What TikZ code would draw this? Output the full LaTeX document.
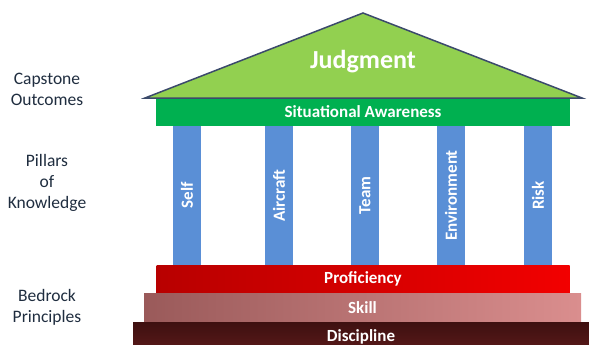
\documentclass[tikz,border=0pt]{standalone}
\usepackage{fontspec}
\setmainfont{Carlito}
\definecolor{roofgreen}{HTML}{92D050}
\definecolor{roofline}{HTML}{3B4A6B}
\definecolor{barsgreen}{HTML}{00B050}
\definecolor{pillarblue}{HTML}{5A8FD6}
\definecolor{profdark}{HTML}{B80000}
\definecolor{profred}{HTML}{F20000}
\definecolor{skilldark}{HTML}{9A5A5A}
\definecolor{skilllight}{HTML}{DA8E8E}
\definecolor{disctop}{HTML}{3E1010}
\definecolor{discred}{HTML}{5A1A1A}
\definecolor{sidetext}{HTML}{1F2D3F}
\begin{document}
\begin{tikzpicture}
[x=1pt,y=-1pt,%
  every node/.style={inner sep=0pt,outer sep=0pt},%
  white label/.style={text=white,font=\bfseries\fontsize{17}{20}\selectfont},%
  pillar/.style={white label,fill=pillarblue,minimum width=139pt,minimum height=28pt,rotate=90},%
  side/.style={text=sidetext,align=center,font=\fontsize{17.5}{21}\selectfont}]
\useasboundingbox (0,0) rectangle (589,345);
\clip (0,0) rectangle (589,345);
% roof
\coordinate (roofL) at (145,98);
\coordinate (roofT) at (363,13);
\coordinate (roofR) at (582,98);
\draw[fill=roofgreen,draw=roofline,line width=1.5pt,line join=miter] (roofL) -- (roofT) -- (roofR) -- cycle;
\node[white label,font=\bfseries\fontsize{26}{30}\selectfont] (judgment) at (363,62) {Judgment};
% beam
\node[white label,fill=barsgreen,minimum width=414pt,minimum height=27pt] (sa) at (363,112) {Situational Awareness};
% pillars
\foreach \x/\name in {187/Self,279/Aircraft,365/Team,451/Environment,538/Risk}
  \node[pillar] (\name) at (\x,195.5) {\name};
% steps
\node[white label,left color=profdark,right color=profred,minimum width=413pt,minimum height=28pt] (proficiency) at (363,279) {Proficiency};
\node[white label,left color=skilldark,right color=skilllight,minimum width=437pt,minimum height=29pt] (skill) at (362.5,307.5) {Skill};
\node[white label,top color=disctop,bottom color=discred,minimum width=456pt,minimum height=30pt] (discipline) at (361,337) {Discipline};
% side labels
\node[side] (capstone) at (47,89) {Capstone\\Outcomes};
\node[side] (pillars) at (47,183) {Pillars\\of\\Knowledge};
\node[side] (bedrock) at (47,307) {Bedrock\\Principles};
\end{tikzpicture}
\end{document}
